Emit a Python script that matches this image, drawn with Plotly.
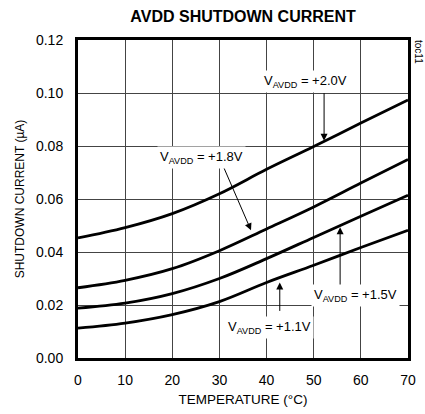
import plotly.graph_objects as go

temperature = [0, 10, 20, 30, 40, 50, 60, 70]
i_20v = [0.0453, 0.0492, 0.0545, 0.0620, 0.0712, 0.0798, 0.0887, 0.0974]
i_18v = [0.0265, 0.0293, 0.0337, 0.0405, 0.0487, 0.0570, 0.0660, 0.0749]
i_15v = [0.0188, 0.0207, 0.0243, 0.0300, 0.0375, 0.0455, 0.0535, 0.0614]
i_11v = [0.0113, 0.0132, 0.0164, 0.0213, 0.0285, 0.0350, 0.0417, 0.0482]

x_ticks = [0, 10, 20, 30, 40, 50, 60, 70]
y_ticks = [0.00, 0.02, 0.04, 0.06, 0.08, 0.10, 0.12]

# label text position and arrow (tail -> tip) in data units
labels = [
    ("V<sub>AVDD</sub> = +2.0V", 48.2, 0.1043, (52.2, 0.1005), (52.2, 0.0820)),
    ("V<sub>AVDD</sub> = +1.8V", 26.2, 0.0758, (30.7, 0.0728), (36.7, 0.0482)),
    ("V<sub>AVDD</sub> = +1.5V", 58.9, 0.0236, (55.6, 0.0263), (55.6, 0.0493)),
    ("V<sub>AVDD</sub> = +1.1V", 40.6, 0.0116, (42.8, 0.0172), (42.8, 0.0285)),
]

FONT = "Liberation Sans, Arial, sans-serif"

fig = go.Figure()
for ys in (i_20v, i_18v, i_15v, i_11v):
    fig.add_trace(go.Scatter(x=temperature, y=ys, mode="lines",
                             line=dict(color="black", width=2.8, shape="spline"),
                             showlegend=False, hoverinfo="skip"))

annotations = []
for text, tx, ty, tail, tip in labels:
    annotations.append(dict(x=tip[0], y=tip[1], ax=tail[0], ay=tail[1],
                            xref="x", yref="y", axref="x", ayref="y",
                            text="", showarrow=True, arrowhead=2, arrowsize=1.4,
                            arrowwidth=1, arrowcolor="black"))
    annotations.append(dict(x=tx, y=ty, xref="x", yref="y", text=text,
                            showarrow=False, bgcolor="white", borderpad=2,
                            font=dict(family=FONT, size=13, color="black")))

annotations.append(dict(x=1.0, y=1.0, xref="paper", yref="paper", text="toc11",
                        showarrow=False, textangle=90, xanchor="center", yanchor="middle",
                        xshift=11, yshift=-12, font=dict(family=FONT, size=10, color="black")))

fig.update_layout(
    width=425, height=414,
    margin=dict(l=78, r=17, t=40, b=56, autoexpand=False),
    paper_bgcolor="white", plot_bgcolor="white",
    title=dict(text="<b>AVDD SHUTDOWN CURRENT</b>", x=0.572, xanchor="center",
               y=1 - 16 / 414, yanchor="middle",
               font=dict(family=FONT, size=16, color="black")),
    font=dict(family=FONT, size=14, color="black"),
    annotations=annotations,
    xaxis=dict(range=[0, 70], tickvals=x_ticks, ticktext=[str(v) for v in x_ticks],
               showgrid=True, gridcolor="#444", gridwidth=1,
               showline=True, linecolor="black", linewidth=3, mirror=True,
               zeroline=False, ticks="", ticklen=0, tickfont=dict(size=14),
               ticklabelstandoff=7, automargin=False,
               title=dict(text="TEMPERATURE (°C)", standoff=8,
                          font=dict(family=FONT, size=13.5))),
    yaxis=dict(range=[0, 0.12], tickvals=y_ticks, ticktext=[f"{v:.2f}" for v in y_ticks],
               showgrid=True, gridcolor="#444", gridwidth=1,
               showline=True, linecolor="black", linewidth=3, mirror=True,
               zeroline=False, ticks="", ticklen=0, tickfont=dict(size=14),
               ticklabelstandoff=9, automargin=False,
               title=dict(text="SHUTDOWN CURRENT (µA)", standoff=9,
                          font=dict(family=FONT, size=12))),
)

fig.write_html(
    "out.html",
    config={"displayModeBar": False},
    post_script="document.body.style.margin='0';document.body.style.overflow='hidden';",
)
